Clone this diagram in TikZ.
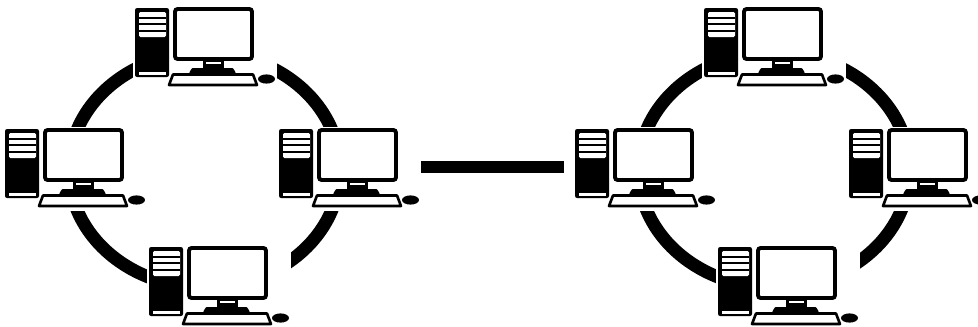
\documentclass[tikz,border=0pt]{standalone}
\usepackage{tikz}

\tikzset{
	ring/.style={line width=7.37pt, black},
	link/.style={line width=7.2pt, black},
	pics/workstation/.style={code={
		\fill[white] (-2,-1) rectangle (142,83);
		% tower
		\fill[black, rounded corners=1.2pt] (0,1) rectangle (34,70);
		\fill[white, rounded corners=0.8pt] (4,5) rectangle (31,30);
		\foreach \y in {11,17,24}
			\draw[black, line width=0.9pt] (4,\y) -- (31,\y);
		\fill[white] (4,65) rectangle (31,67.5);
		% screen
		\draw[black, line width=2.2pt, fill=white, rounded corners=1.5pt] (40,2) rectangle (117,52);
		\fill[black] (68,53) rectangle (89,62);
		\fill[white] (71,54.5) rectangle (86,56.5);
		\fill[black, rounded corners=0.5pt] (54,66) -- (57,61) -- (98,61) -- (101,66) -- cycle;
		% keyboard
		\draw[black, line width=1.5pt, fill=white, line join=round] (38,67.5) -- (118,67.5) -- (122,78) -- (34,78) -- cycle;
		\fill[black] (131.5,72) ellipse [x radius=8.5, y radius=4.6];
	}}
}

\begin{document}
\begin{tikzpicture}[x=0.02cm, y=-0.02cm]
	\useasboundingbox (0,0) rectangle (978,326);
	\clip (0,0) rectangle (978,326);
	\coordinate (L) at (204.5,170);
	\coordinate (R) at (774,170);
	\coordinate (linkL) at (420,167);
	\coordinate (linkR) at (564,167);
	\draw[ring] (L) ellipse [x radius=135.5, y radius=117.5];
	\draw[ring] (R) ellipse [x radius=135.5, y radius=117.5];
	\draw[link] (linkL) -- (linkR);
	\pic at (135,7) {workstation};
	\pic at (5,128) {workstation};
	\pic at (279,128) {workstation};
	\pic at (149,246) {workstation};
	\pic at (704,7) {workstation};
	\pic at (575,128) {workstation};
	\pic at (849,128) {workstation};
	\pic at (718,246) {workstation};
\end{tikzpicture}
\end{document}
